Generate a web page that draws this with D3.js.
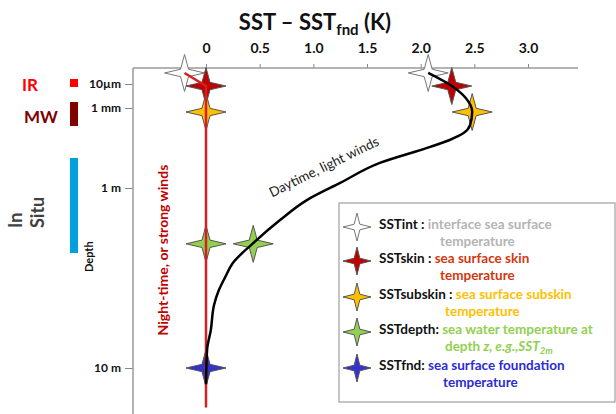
<!DOCTYPE html>
<html><head><meta charset="utf-8">
<script src="https://cdn.jsdelivr.net/npm/d3@7"></script>
<style>
html,body{margin:0;padding:0;background:#fff;}
svg{display:block;font-family:Lato, "Open Sans", sans-serif;}
</style></head>
<body>
<svg id="c" width="616" height="414"></svg>
<script>
// ---------- data ----------
const xTicks = [0, 0.5, 1.0, 1.5, 2.0, 2.5, 3.0];
const xTickLabels = ["0", "0.5", "1.0", "1.5", "2.0", "2.5", "3.0"];
// depth in log10(metres)
const depthTicks = [-5, -3, 0, 1];
const depthTickLabels = ["10\u00b5m", "1 mm", "1 m", "10 m"];

// Daytime, light winds profile (SST - SSTfnd, K) vs log10 depth
const dayDT    = [2.07, 2.29, 2.42, 2.48, 2.46, 2.40, 2.27, 2.09, 1.62, 1.25, 0.94, 0.69, 0.44, 0.25, 0.18, 0.12, 0.075, 0.045, 0.01, 0];
const dayDepth = [-5.92, -4.83, -3.83, -2.85, -2.36, -2.06, -1.80, -1.54, -0.94, -0.19, 0.067, 0.178, 0.306, 0.417, 0.494, 0.567, 0.65, 0.789, 0.90, 1.09];

// Night-time / strong winds profile
const nightDT    = [-0.2, 0, 0];
const nightDepth = [-5.92, -4.83, 1.22];

// star markers
const starKeys     = ["SSTint", "SSTskin", "SSTsubskin", "SSTdepth", "SSTfnd"];
const starFills    = ["#ffffff", "#c00000", "#ffc000", "#92d050", "#3333cc"];
const nightStarDT    = [-0.2, 0, 0, 0, 0];
const nightStarDepth = [-5.92, -4.83, -2.85, 0.31, 1.0];
const dayStarDT      = [2.07, 2.29, 2.48, 0.44];
const dayStarDepth   = [-5.92, -4.83, -2.85, 0.31];

// legend
const legendKeys  = ["SSTint :", "SSTskin :", "SSTsubskin :", "SSTdepth:", "SSTfnd:"];
const legendLine1 = ["interface sea surface", "sea surface skin", "sea surface subskin", "sea water temperature at", "sea surface foundation"];
const legendLine2 = ["temperature", "temperature", "temperature", "depth", "temperature"];
const legendColors = ["#b4b4b4", "#d2380f", "#ffc000", "#92d050", "#2c2cd2"];

// ---------- drawing ----------
const svg = d3.select("#c");
const x = d3.scaleLinear().domain([0, 3]).range([206, 528]);
const y = d3.scaleLinear().domain(depthTicks).range([84, 108, 188, 368]);

// title
const title = svg.append("text").attr("x", 315).attr("y", 30).attr("text-anchor", "middle")
  .attr("font-size", 22).attr("font-weight", 700).attr("fill", "#111");
title.append("tspan").text("SST \u2013 SST");
title.append("tspan").text("fnd").attr("font-size", 15).attr("dy", 5);
title.append("tspan").text(" (K)").attr("dy", -5);

// top axis
const xAxis = d3.axisTop(x).tickValues(xTicks).tickFormat((d, i) => xTickLabels[i]).tickSize(4).tickPadding(11);
const gx = svg.append("g").attr("transform", "translate(0,68)").call(xAxis);
gx.select(".domain").remove();
gx.append("line").attr("x1", 133).attr("x2", 578).attr("y1", 0).attr("y2", 0).attr("stroke", "#9a9a9a").attr("stroke-width", 1.5);
gx.selectAll(".tick line").attr("stroke", "#888");
gx.selectAll(".tick text").attr("font-size", 14).attr("font-weight", 700).attr("fill", "#111").attr("font-family", "Lato");

// left axis
const yAxis = d3.axisLeft(y).tickValues(depthTicks).tickFormat((d, i) => depthTickLabels[i]).tickSize(8).tickPadding(4);
const gy = svg.append("g").attr("transform", "translate(133,0)").call(yAxis);
gy.select(".domain").remove();
gy.append("line").attr("x1", 0).attr("x2", 0).attr("y1", 68).attr("y2", 414).attr("stroke", "#9a9a9a").attr("stroke-width", 1.5);
gy.selectAll(".tick line").attr("stroke", "#888");
gy.selectAll(".tick text").attr("font-size", 12).attr("font-weight", 700).attr("fill", "#111").attr("font-family", "Lato");

// "Depth"
svg.append("text").attr("transform", "translate(93,272) rotate(-90)").attr("font-size", 11).attr("font-weight", 700)
  .attr("fill", "#111").text("Depth");

// left instrument labels
svg.append("text").attr("x", 22).attr("y", 91).attr("font-size", 17).attr("font-weight", 700).attr("fill", "#ff0000").text("IR");
svg.append("rect").attr("x", 70).attr("y", 79).attr("width", 8).attr("height", 8).attr("fill", "#ff0000");
svg.append("text").attr("x", 24).attr("y", 123).attr("font-size", 17).attr("font-weight", 700).attr("fill", "#800000").text("MW");
svg.append("rect").attr("x", 70).attr("y", 102).attr("width", 8).attr("height", 24).attr("fill", "#800000");
svg.append("rect").attr("x", 70).attr("y", 158).attr("width", 8).attr("height", 95).attr("fill", "#00a0dc");
svg.append("text").attr("transform", "translate(22,228) rotate(-90)").attr("font-size", 18).attr("font-weight", 700).attr("fill", "#404040").text("In");
svg.append("text").attr("transform", "translate(44,228) rotate(-90)").attr("font-size", 18).attr("font-weight", 700).attr("fill", "#404040").text("Situ");

const line = d3.line().x(d => x(d[0])).y(d => y(d[1]));

// star shape (4-point star, straight sides)
function starPath(rx, ry) {
  const k = 0.2;
  const pts = [[0, -ry], [k * rx, -k * ry], [rx, 0], [k * rx, k * ry], [0, ry], [-k * rx, k * ry], [-rx, 0], [-k * rx, -k * ry]];
  return d3.line()(pts) + "Z";
}
function drawStar(cx, cy, fill, rx, ry) {
  svg.append("path").attr("d", starPath(rx, ry)).attr("transform", `translate(${cx},${cy})`)
    .attr("fill", fill).attr("stroke", fill === "#ffffff" ? "#777" : "#555").attr("stroke-width", 1)
    .attr("stroke-linejoin", "round");
}

// night profile: stars, then the red line over them
nightStarDT.forEach((v, i) => drawStar(x(v), y(nightStarDepth[i]), starFills[i], 20, 18.5));
svg.append("path").datum(nightDT.map((v, i) => [v, nightDepth[i]]))
  .attr("d", line).attr("fill", "none").attr("stroke", "#d42020").attr("stroke-width", 2.5);

// day profile: stars, then the black curve over them
dayStarDT.forEach((v, i) => drawStar(x(v), y(dayStarDepth[i]), starFills[i], 20, 18.5));
svg.append("path").datum(dayDT.map((v, i) => [v, dayDepth[i]]))
  .attr("d", line.curve(d3.curveMonotoneY)).attr("fill", "none").attr("stroke", "#000").attr("stroke-width", 2.5);

// curve labels
svg.append("text").attr("transform", "translate(326,171) rotate(-26)").attr("text-anchor", "middle")
  .attr("font-size", 13.5).attr("fill", "#222").text("Daytime, light winds");
svg.append("text").attr("transform", "translate(168,250) rotate(-90)").attr("text-anchor", "middle")
  .attr("font-size", 14).attr("font-weight", 700).attr("fill", "#c00000").text("Night-time, or strong winds");

// legend
svg.append("rect").attr("x", 339).attr("y", 203).attr("width", 276).attr("height", 199)
  .attr("fill", "#fff").attr("stroke", "#a0a0a0").attr("stroke-width", 1.2);
const ly = [227, 261, 297, 332, 368];
const l2x = [440, 440, 445, 445, 443];
legendKeys.forEach((k, i) => {
  drawStar(357, ly[i], starFills[i], 14, 14);
  const t = svg.append("text").attr("x", 379).attr("y", ly[i] + 2).attr("font-size", 13.5).attr("font-weight", 700);
  t.append("tspan").attr("fill", "#111").text(k + " ");
  t.append("tspan").attr("fill", legendColors[i]).text(legendLine1[i]);
  const t2 = svg.append("text").attr("x", l2x[i]).attr("y", ly[i] + 19).attr("font-size", 13.5).attr("font-weight", 700).attr("fill", legendColors[i]);
  t2.append("tspan").text(legendLine2[i] + " ");
  if (i === 3) {
    t2.append("tspan").attr("font-style", "italic").text("z, e.g.,SST");
    t2.append("tspan").attr("font-style", "italic").attr("font-size", 9.5).attr("dy", 3).text("2m");
  }
});
</script>
</body></html>
